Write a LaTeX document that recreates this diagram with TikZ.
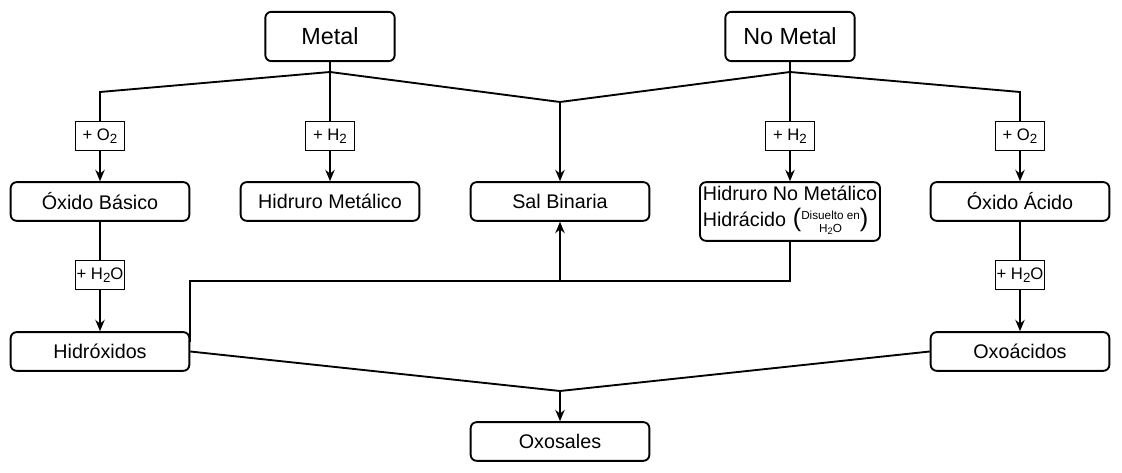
\documentclass[tikz,border=0pt]{standalone}
\usepackage{fontspec}
\setmainfont{Liberation Sans}
\usetikzlibrary{arrows.meta}
\newcommand{\chemsub}[1]{\raisebox{-0.35ex}{\scalebox{0.8}{#1}}}
\begin{document}
\begin{tikzpicture}[x=0.75pt, y=-0.75pt,
  compound/.style={draw, rounded corners=4.5pt, line width=1.4pt, minimum width=134pt, minimum height=29pt, font=\fontsize{14.8}{16}\selectfont, inner sep=1pt},
  element/.style={compound, minimum width=97pt, minimum height=37pt, font=\fontsize{17.5}{20}\selectfont},
  reagent/.style={draw, fill=white, line width=1pt, minimum width=37pt, minimum height=22pt, font=\fontsize{12.5}{14}\selectfont, inner sep=1pt},
  flow/.style={line width=1.4pt, -{Stealth[length=8.5pt, width=7pt]}},
  link/.style={line width=1.4pt}]

  \useasboundingbox (0,0) rectangle (1122,473);

  % elements
  \draw (330,36.5) node[element] (metal) {Metal};
  \draw (790,36.5) node[element] (nometal) {No Metal};

  % compounds
  \draw (100,201.5) node[compound] (obasico) {Óxido Básico};
  \draw (330,201.5) node[compound] (hmetalico) {Hidruro Metálico};
  \draw (560,201.5) node[compound] (salbin) {Sal Binaria};
  \draw (790,211.5) node[compound, minimum width=135pt, minimum height=44pt, inner xsep=0pt, align=left] (hnometal)
    {Hidruro No Metálico\\[3pt]Hidrácido\hspace{5pt}{\fontsize{19}{19}\selectfont(}{\fontsize{8.8}{10}\selectfont\begin{tabular}{@{}c@{}}Disuelto en\\H\chemsub{2}O\end{tabular}}{\fontsize{19}{19}\selectfont)}};
  \draw (1020,201.5) node[compound] (oacido) {Óxido Ácido};
  \draw (100,351.5) node[compound] (hidroxidos) {Hidróxidos};
  \draw (1020,351.5) node[compound] (oxoacidos) {Oxoácidos};
  \draw (560,441.5) node[compound] (oxosales) {Oxosales};

  % junctions
  \coordinate (jm) at (330,72);
  \coordinate (jn) at (790,72);
  \coordinate (jl) at (100,92);
  \coordinate (jr) at (1020,92);
  \coordinate (jsal) at (560,102);
  \coordinate (jhn) at (790,281);
  \coordinate (js) at (560,281);
  \coordinate (jox) at (560,391);

  % connectors
  \draw[link] (metal) -- (jm);
  \draw[flow] (jm) -- (jl) -- (obasico);
  \draw[flow] (jm) -- (hmetalico);
  \draw[flow] (jm) -- (jsal) -- (salbin);
  \draw[link] (nometal) -- (jn);
  \draw[link] (jn) -- (jsal);
  \draw[flow] (jn) -- (hnometal);
  \draw[flow] (jn) -- (jr) -- (oacido);
  \draw[flow] (obasico) -- (hidroxidos);
  \draw[flow] (oacido) -- (oxoacidos);
  \draw[link] ([yshift=7pt]hidroxidos.east) |- (jhn) -- (hnometal);
  \draw[flow] (js) -- (salbin);
  \draw[link] (hidroxidos.east) -- (jox);
  \draw[link] (oxoacidos.west) -- (jox);
  \draw[flow] (jox) -- (oxosales);

  % reagents
  \draw (100,136) node[reagent] (ro1) {+ O\chemsub{2}};
  \draw (330,136) node[reagent] (rh1) {+ H\chemsub{2}};
  \draw (790,136) node[reagent] (rh2) {+ H\chemsub{2}};
  \draw (1020,136) node[reagent] (ro2) {+ O\chemsub{2}};
  \draw (100,275) node[reagent] (rw1) {+ H\chemsub{2}O};
  \draw (1020,275) node[reagent] (rw2) {+ H\chemsub{2}O};

\end{tikzpicture}
\end{document}
